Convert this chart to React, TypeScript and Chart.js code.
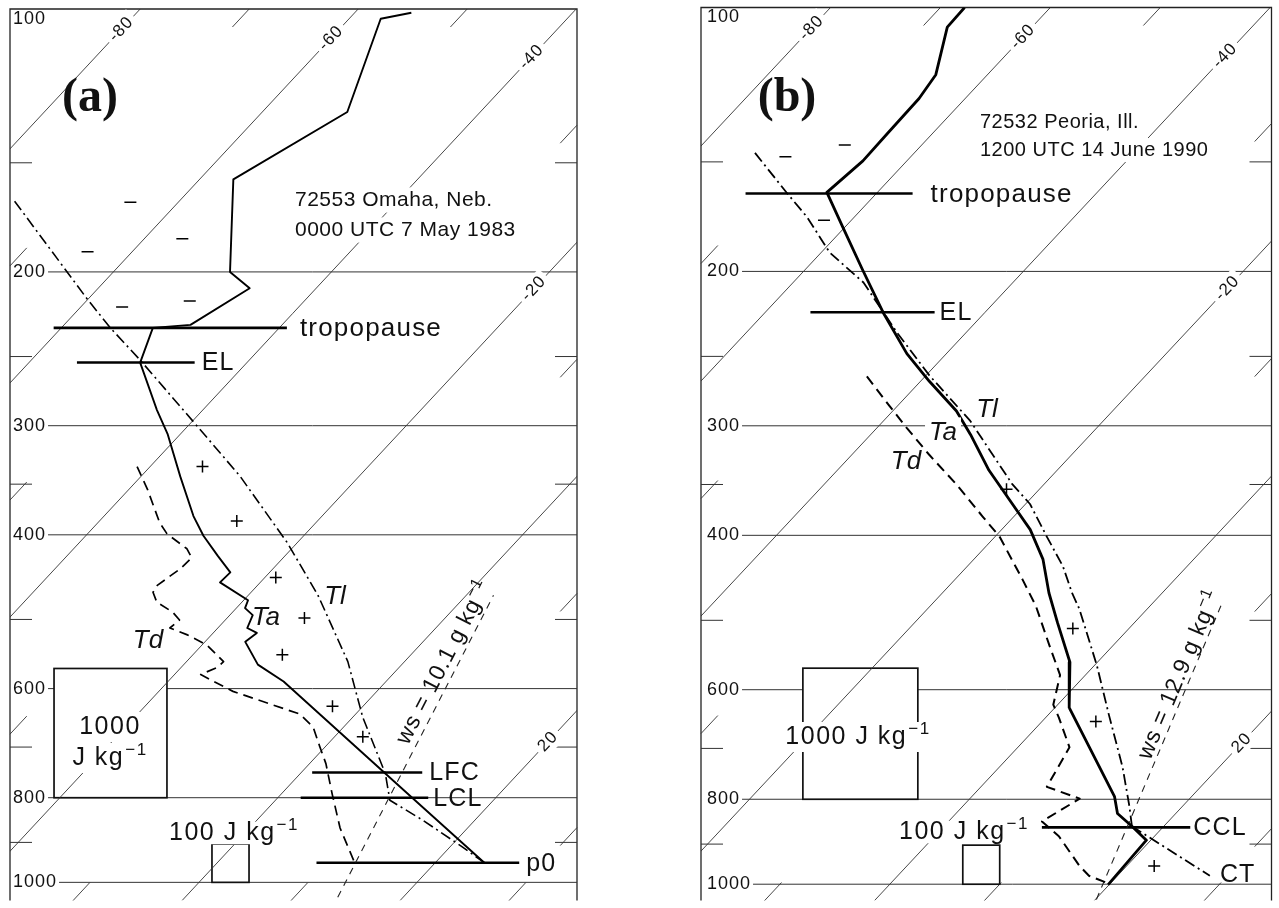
import React, { useEffect, useRef } from 'react';
import { Chart, registerables } from 'chart.js';

Chart.register(...registerables);

type PT = [number, number]; // [pressure hPa, temperature °C]

// ---------- shared axis values ----------
const ISOTHERMS = [-80, -60, -40, -20, 0, 20];
const ISOTHERM_TICKS = [-70, -50, -30, -10, 10, 30];
const ISOTHERM_LABEL_T = [-80, -60, -40, -20, 20];
const ISOTHERM_LABEL_P = [105.5, 108, 113.5, 209, 690];
const P_LABELS = [100, 200, 300, 400, 600, 800, 1000];
const P_GRID = [200, 300, 400, 600, 800, 1000];
const P_MINOR = [150, 250, 350, 500, 700, 900];

// ---------- panel (a): 72553 Omaha ----------
const A_TA: PT[] = [[101, -54.8], [102.6, -57.1], [131.2, -52.2], [156.7, -56.9], [200, -49.3], [208.8, -46.1], [230, -48.4], [231.8, -51.6], [254, -49.8], [287.9, -44.2], [306.5, -41.2], [342.9, -36.4], [380.7, -31.8], [401, -29.2], [422.6, -26.2], [441.7, -23.6], [453.4, -23.7], [475.3, -19.6], [485.3, -19.2], [494.3, -17.9], [511.4, -17.3], [518.1, -16.0], [530.4, -16.3], [563.2, -13.2], [588.8, -9.4], [750.6, 7.8], [805.4, 12.8], [949.5, 24.5]];
const A_TL: PT[] = [[166, -75.1], [214.4, -60.2], [231.8, -55.5], [252, -50.1], [301, -39.0], [342.9, -30.9], [408.5, -20.9], [469.2, -13.6], [558.8, -5.2], [646.8, 0.9], [750.6, 7.8], [805.4, 10.5], [848.6, 15.2], [908.2, 20.9], [949.5, 24.5]];
const A_TD: PT[] = [[334.1, -41.2], [354.8, -38.3], [387.7, -34.3], [399, -32.7], [415, -29.6], [424.9, -28.4], [437.2, -28.5], [457, -29.2], [465.4, -29.0], [477.8, -27.8], [490.4, -25.5], [500.7, -24.2], [511.4, -24.4], [520.8, -22.2], [534.5, -19.6], [558.8, -16.6], [567.6, -16.7], [578.1, -17.6], [588.8, -15.8], [604.4, -13.2], [641.8, -5.1], [663.9, -2.8], [699.4, -0.5], [731.2, 1.5], [790.8, 4.6], [866.5, 8.3], [949.5, 12.6]];
const A_WS: PT[] = [[1040, 14.0], [469.2, 2.5]];
const A_LEVEL_NAMES = ['tropopause', 'EL', 'LFC', 'LCL', 'p0'];
const A_LEVEL_P = [231.8, 254, 748.6, 800, 949.5];
const A_LEVEL_T1 = [-60.7, -55.6, 1.0, 2.1, 9.1];
const A_LEVEL_T2 = [-39.3, -44.8, 11.1, 13.8, 27.7];
const A_PLUS: PT[] = [[334.1, -35.2], [385.7, -27.4], [447.6, -19.0], [498.2, -12.9], [548.7, -11.8], [628.5, -2.8], [681.4, 2.6]];
const A_MINUS: PT[] = [[166.4, -64.4], [183.3, -56.5], [189.6, -64.1], [219.4, -56.2], [216, -50.5]];

// ---------- panel (b): 72532 Peoria ----------
const B_TA: PT[] = [[100, -67.8], [105.3, -67.7], [119.3, -64.7], [127, -64.2], [139.4, -64.1], [149.6, -64.0], [162.5, -64.6], [178, -60.2], [199, -54.8], [222.6, -49.3], [248.2, -43.6], [266.9, -39.2], [288.6, -34.2], [307.1, -30.9], [337.2, -26.2], [368.4, -21.2], [394, -17.4], [426.1, -13.7], [465.4, -10.3], [503.1, -7.0], [558.2, -2.5], [629, 1.3], [794.6, 13.0], [830.5, 14.7], [858.9, 17.1], [890.8, 19.6], [1001, 19.9]];
const B_TL: PT[] = [[146.5, -74.5], [163, -68.1], [173.4, -64.3], [190.4, -59.2], [205.9, -53.6], [234.4, -46.4], [262.8, -39.7], [296.2, -32.1], [349.7, -22.9], [368.4, -19.6], [401.3, -15.3], [433.9, -11.3], [465.4, -8.2], [485.1, -6.2], [562.6, 0.2], [640.6, 5.5], [735, 11.2], [815.6, 15.2], [858.9, 17.1]];
const B_CT: PT[] = [[858.9, 17.1], [978, 28.4]];
const B_TD: PT[] = [[263.5, -45.3], [284.9, -40.7], [301.6, -37.3], [323.5, -33.0], [349.7, -28.0], [381, -22.8], [401.3, -19.6], [448.8, -13.9], [481.4, -10.4], [534.1, -5.8], [577.4, -2.3], [624.1, -0.4], [645.5, 1.2], [698, 4.7], [774.3, 6.0], [798.7, 10.0], [848, 8.5], [881.6, 11.3], [953.1, 15.7], [978, 17.4], [996.1, 19.6]];
const B_WS: PT[] = [[1041, 20.1], [477.6, 6.3]];
const B_LEVEL_NAMES = ['tropopause', 'EL', 'CCL'];
const B_LEVEL_P = [163, 222.6, 861.3];
const B_LEVEL_T1 = [-71.9, -55.9, 9.0];
const B_LEVEL_T2 = [-56.7, -44.6, 22.5];
const B_PLUS: PT[] = [[354.3, -23.0], [511, -5.1], [652.2, 4.9], [953.1, 22.5]];
const B_MINUS: PT[] = [[143.5, -67.0], [148, -71.4], [174.8, -62.5]];

// ---------- layout / style ----------
const PANEL_A = {
  id: 'a', left: 0, width: 640, height: 908,
  pad: { left: 10, right: 63, top: 9, bottom: 0 },
  xMin: -17.34, xMax: 34.68, pMax: 1049, skew: 32.4, labelDx: 3,
  ta: A_TA, tl: A_TL, td: A_TD, ws: A_WS, ct: null as PT[] | null,
  levelNames: A_LEVEL_NAMES, levelP: A_LEVEL_P, levelT1: A_LEVEL_T1, levelT2: A_LEVEL_T2,
  levelDx: [13, 7, 7, 5, 7], levelSize: [26, 25, 25, 25, 25],
  plus: A_PLUS, minus: A_MINUS,
  taWidth: 1.9, tdWidth: 1.7, tlWidth: 1.6,
  boxes: [{ x0: -13.3, x1: -2.94, p0: 569, p1: 800 }, { x0: 1.19, x1: 4.59, p0: 903.7, p1: 1000 }],
  texts: [
    { t: '(a)', x: 90, y: 99, size: 48, family: 'Liberation Serif', weight: 'bold', align: 'center' },
    { t: '72553 Omaha, Neb.', x: 295, y: 200, size: 21, ls: 0.5, align: 'left', bg: true },
    { t: '0000 UTC 7 May 1983', x: 295, y: 230, size: 21, ls: 0.5, align: 'left', bg: true },
    { t: 'Ta', x: 266, y: 618, size: 26, italic: true, align: 'center' },
    { t: 'Td', x: 148, y: 641, size: 26, italic: true, align: 'center' },
    { t: 'Tl', x: 335, y: 597, size: 26, italic: true, align: 'center' },
    { t: '1000', x: 110, y: 727, size: 25, ls: 1.5, align: 'center', bg: true },
    { t: 'J kg', sup: '−1', x: 110, y: 758, size: 25, ls: 1.5, align: 'center', bg: true },
    { t: '100 J kg', sup: '−1', x: 234, y: 833, size: 25, ls: 1.5, align: 'center', bg: true, bgh: 0.9 },
  ],
  wsLabel: { t: 'ws = 10.1 g kg', sup: '−1', p: 560, dx: -15, size: 23 },
};

const PANEL_B = {
  id: 'b', left: 640, width: 639, height: 908,
  pad: { left: 61, right: 7, top: 5, bottom: 0 },
  xMin: -17.18, xMax: 34.73, pMax: 1043.7, skew: 32.4, labelDx: 6,
  ta: B_TA, tl: B_TL, td: B_TD, ws: B_WS, ct: B_CT,
  levelNames: B_LEVEL_NAMES, levelP: B_LEVEL_P, levelT1: B_LEVEL_T1, levelT2: B_LEVEL_T2,
  levelDx: [18, 5, 3], levelSize: [26, 25, 25],
  plus: B_PLUS, minus: B_MINUS,
  taWidth: 2.8, tdWidth: 2.0, tlWidth: 1.8,
  boxes: [{ x0: -7.91, x1: 2.55, p0: 567, p1: 800 }, { x0: 6.64, x1: 10.0, p0: 902.5, p1: 1000 }],
  texts: [
    { t: '(b)', x: 147, y: 99, size: 48, family: 'Liberation Serif', weight: 'bold', align: 'center' },
    { t: '72532 Peoria, Ill.', x: 340, y: 122, size: 20, ls: 0.5, align: 'left', bg: true },
    { t: '1200 UTC 14 June 1990', x: 340, y: 150, size: 20, ls: 0.5, align: 'left', bg: true },
    { t: 'Tl', x: 347, y: 410, size: 26, italic: true, align: 'center' },
    { t: 'Ta', x: 303, y: 433, size: 26, italic: true, align: 'center', bg: true },
    { t: 'Td', x: 266, y: 462, size: 26, italic: true, align: 'center' },
    { t: '1000 J kg', sup: '−1', x: 218, y: 737, size: 25, ls: 1.5, align: 'center', bg: true },
    { t: '100 J kg', sup: '−1', x: 324, y: 832, size: 25, ls: 1.5, align: 'center', bg: true, bgh: 0.9 },
    { t: 'CT', x: 580, y: 875, size: 25, ls: 1, align: 'left' },
  ],
  wsLabel: { t: 'ws = 12.9 g kg', sup: '−1', p: 577, dx: -12, size: 23 },
};

function sk(T: number, p: number, S: number) {
  return { x: T + S * Math.log(1000 / p), y: p };
}

function drawText(ctx: CanvasRenderingContext2D, o: any) {
  const size = o.size;
  const fam = o.family || 'Liberation Sans';
  const font = `${o.italic ? 'italic ' : ''}${o.weight || 'normal'} ${size}px "${fam}"`;
  const supSize = Math.round(size * 0.68);
  const supFont = `normal ${supSize}px "${fam}"`;
  ctx.save();
  ctx.translate(o.x, o.y);
  if (o.rot) ctx.rotate(o.rot);
  (ctx as any).letterSpacing = (o.ls || 0) + 'px';
  ctx.textBaseline = 'middle';
  ctx.textAlign = 'left';
  ctx.font = font;
  const w1 = ctx.measureText(o.t).width;
  let w2 = 0;
  if (o.sup) {
    ctx.font = supFont;
    w2 = ctx.measureText(o.sup).width + 1;
    ctx.font = font;
  }
  const W = w1 + w2;
  const x0 = o.align === 'center' ? -W / 2 : o.align === 'right' ? -W : 0;
  if (o.bg) {
    const h = size * (o.bgh || 1.2);
    ctx.fillStyle = '#fff';
    ctx.fillRect(x0 - 4, -h / 2, W + 8, h);
  }
  ctx.fillStyle = '#111';
  ctx.fillText(o.t, x0, 0);
  if (o.sup) {
    ctx.font = supFont;
    ctx.fillText(o.sup, x0 + w1 + 1, -size * 0.3);
  }
  ctx.restore();
}

function makePlugin(P: any) {
  const S = P.skew;
  const seg = (ctx: CanvasRenderingContext2D, x1: number, y1: number, x2: number, y2: number) => {
    ctx.beginPath();
    ctx.moveTo(x1, y1);
    ctx.lineTo(x2, y2);
    ctx.stroke();
  };
  return {
    id: 'skewt' + P.id,
    beforeDatasetsDraw(chart: any) {
      const ctx: CanvasRenderingContext2D = chart.ctx;
      const a = chart.chartArea;
      const xs = chart.scales.x;
      const ys = chart.scales.y;
      const X = (T: number, p: number) => xs.getPixelForValue(T + S * Math.log(1000 / p));
      const Y = (p: number) => ys.getPixelForValue(p);
      ctx.save();
      ctx.fillStyle = '#fff';
      ctx.fillRect(0, 0, chart.width, chart.height);
      // frame
      ctx.strokeStyle = '#222';
      ctx.lineWidth = 1.3;
      ctx.beginPath();
      ctx.moveTo(a.left, a.bottom);
      ctx.lineTo(a.left, a.top);
      ctx.lineTo(a.right, a.top);
      ctx.lineTo(a.right, a.bottom);
      ctx.stroke();
      // pressure labels and isobars
      ctx.font = '18px "Liberation Sans"';
      (ctx as any).letterSpacing = '1px';
      ctx.textBaseline = 'middle';
      ctx.textAlign = 'left';
      ctx.fillStyle = '#111';
      ctx.strokeStyle = '#333';
      ctx.lineWidth = 1;
      for (const p of P_LABELS) {
        const y = p === 100 ? a.top + 10 : Y(p);
        const tx = a.left + P.labelDx;
        ctx.fillText(String(p), tx, y);
        if (P_GRID.includes(p)) {
          const w = ctx.measureText(String(p)).width;
          seg(ctx, tx + w + 2, y, a.right, y);
        }
      }
      (ctx as any).letterSpacing = '0px';
      // minor pressure ticks
      for (const p of P_MINOR) {
        const y = Y(p);
        seg(ctx, a.left, y, a.left + 22, y);
        seg(ctx, a.right - 22, y, a.right, y);
      }
      // short isotherm ticks at the frame
      ctx.lineWidth = 0.9;
      const L = 18;
      for (const T of ISOTHERM_TICKS) {
        const xt = X(T, ys.getValueForPixel(a.top));
        const xb = X(T, ys.getValueForPixel(a.bottom));
        const m = (xt - xb) / (a.bottom - a.top);
        const xAt = (y: number) => xb + (a.bottom - y) * m;
        const segs: [number, number][] = [];
        if (xt >= a.left && xt <= a.right) segs.push([a.top, a.top + L]);
        if (xb >= a.left && xb <= a.right) segs.push([a.bottom, a.bottom - L]);
        const yl = a.bottom - (a.left - xb) / m;
        if (yl > a.top && yl < a.bottom) segs.push([yl, yl - L]);
        const yr = a.bottom - (a.right - xb) / m;
        if (yr > a.top && yr < a.bottom) segs.push([yr, yr + L]);
        for (const [y1, y2] of segs) seg(ctx, xAt(y1), y1, xAt(y2), y2);
      }
      // energy scale boxes
      ctx.lineWidth = 1.7;
      ctx.strokeStyle = '#111';
      for (const b of P.boxes) {
        const x1 = xs.getPixelForValue(b.x0);
        const x2 = xs.getPixelForValue(b.x1);
        const y1 = Y(b.p0);
        const y2 = Y(b.p1);
        ctx.fillStyle = '#fff';
        ctx.fillRect(x1, y1, x2 - x1, y2 - y1);
        ctx.strokeRect(x1, y1, x2 - x1, y2 - y1);
      }
      ctx.restore();
    },
    afterDatasetsDraw(chart: any) {
      const ctx: CanvasRenderingContext2D = chart.ctx;
      const xs = chart.scales.x;
      const ys = chart.scales.y;
      const X = (T: number, p: number) => xs.getPixelForValue(T + S * Math.log(1000 / p));
      const Y = (p: number) => ys.getPixelForValue(p);
      // isotherm labels
      ISOTHERM_LABEL_T.forEach((T, i) => {
        const p = ISOTHERM_LABEL_P[i];
        const ang = Math.atan2(Y(200) - Y(800), X(T, 200) - X(T, 800));
        drawText(ctx, { t: String(T), x: X(T, p), y: Y(p), size: 17, ls: 1, align: 'center', bg: true, rot: ang });
      });
      // free texts
      for (const o of P.texts) drawText(ctx, o);
      // level labels
      P.levelNames.forEach((name: string, i: number) => {
        const p = P.levelP[i];
        drawText(ctx, { t: name, x: X(P.levelT2[i], p) + P.levelDx[i], y: Y(p) + 1, size: P.levelSize[i], ls: 1.2, align: 'left' });
      });
      // saturation mixing ratio label
      const w0 = P.ws[0];
      const w1 = P.ws[1];
      const xb = X(w0[1], w0[0]);
      const yb = Y(w0[0]);
      const xt = X(w1[1], w1[0]);
      const yt = Y(w1[0]);
      const yL = Y(P.wsLabel.p);
      const xL = xb + ((yL - yb) * (xt - xb)) / (yt - yb) + P.wsLabel.dx;
      drawText(ctx, { t: P.wsLabel.t, sup: P.wsLabel.sup, x: xL, y: yL, size: P.wsLabel.size, ls: 0.8, align: 'center', rot: Math.atan2(yt - yb, xt - xb) });
    },
  };
}

function buildConfig(P: any) {
  const S = P.skew;
  const line = (pts: PT[], extra: any) => ({
    data: pts.map(([p, T]) => sk(T, p, S)),
    showLine: true,
    pointRadius: 0,
    borderColor: '#000',
    backgroundColor: '#000',
    fill: false,
    tension: 0,
    borderJoinStyle: 'round',
    ...extra,
  });
  const datasets: any[] = [];
  datasets.push(line(P.ta, { borderWidth: P.taWidth }));
  datasets.push(line(P.td, { borderWidth: P.tdWidth, borderDash: [10, 6] }));
  datasets.push(line(P.tl, { borderWidth: P.tlWidth, borderDash: [11, 4, 2, 4] }));
  if (P.ct) datasets.push(line(P.ct, { borderWidth: P.tlWidth, borderDash: [11, 4, 2, 4] }));
  datasets.push(line(P.ws, { borderWidth: 1.1, borderDash: [7, 6], borderColor: '#222' }));
  P.levelP.forEach((p: number, i: number) => {
    datasets.push(line([[p, P.levelT1[i]], [p, P.levelT2[i]]], { borderWidth: 2.6, borderJoinStyle: 'miter' }));
  });
  datasets.push({
    data: P.plus.map(([p, T]: PT) => sk(T, p, S)),
    showLine: false, pointStyle: 'cross', pointRadius: 6, pointBorderWidth: 1.5,
    pointBorderColor: '#000', borderColor: '#000', backgroundColor: '#000',
  });
  datasets.push({
    data: P.minus.map(([p, T]: PT) => sk(T, p, S)),
    showLine: false, pointStyle: 'line', pointRadius: 6, pointBorderWidth: 1.5,
    pointBorderColor: '#000', borderColor: '#000', backgroundColor: '#000',
  });
  ISOTHERMS.forEach((T) => {
    datasets.push(line([[100, T], [P.pMax, T]], { borderWidth: 0.9, borderColor: '#333' }));
  });
  return {
    type: 'scatter',
    data: { datasets },
    options: {
      animation: false,
      responsive: false,
      devicePixelRatio: 1,
      events: [],
      layout: { padding: P.pad },
      plugins: { legend: { display: false }, tooltip: { enabled: false } },
      scales: {
        x: { type: 'linear', display: false, min: P.xMin, max: P.xMax },
        y: { type: 'logarithmic', display: false, reverse: true, min: 100, max: P.pMax },
      },
    },
    plugins: [makePlugin(P)],
  };
}

function SkewPanel({ panel }: { panel: any }) {
  const ref = useRef<HTMLCanvasElement>(null);
  useEffect(() => {
    if (!ref.current) return;
    const chart = new Chart(ref.current, buildConfig(panel) as any);
    return () => chart.destroy();
  }, [panel]);
  return (
    <canvas
      ref={ref}
      width={panel.width}
      height={panel.height}
      style={{ position: 'absolute', left: panel.left, top: 0, width: panel.width, height: panel.height }}
    />
  );
}

export default function App() {
  return (
    <div style={{ position: 'fixed', left: 0, top: 0, width: 1279, height: 908, background: '#fff', overflow: 'hidden' }}>
      <SkewPanel panel={PANEL_A} />
      <SkewPanel panel={PANEL_B} />
    </div>
  );
}
